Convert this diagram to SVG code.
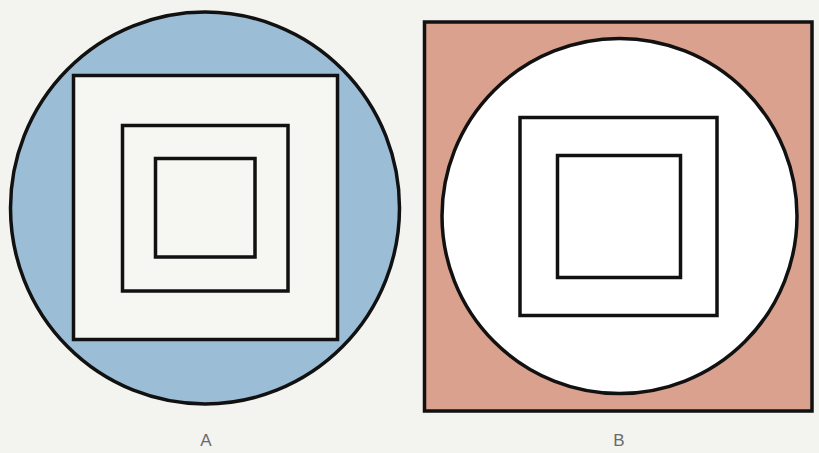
<svg xmlns="http://www.w3.org/2000/svg" width="819" height="453" viewBox="0 0 819 453">
  <style>
    .ln { stroke: #111; stroke-width: 3.5; }
    .sq { fill: none; stroke: #111; stroke-width: 3.5; }
    .lbl { font-family: "Liberation Sans", "DejaVu Sans", sans-serif; font-size: 17px; fill: #6a6a6a; text-anchor: middle; }
  </style>
  <rect x="0" y="0" width="819" height="453" fill="#f3f3f0"/>
  <g id="figureA">
    <ellipse cx="205" cy="208" rx="194.5" ry="196" fill="#9bbdd6" class="ln"/>
    <rect x="73.5" y="75.5" width="264" height="264" fill="#f6f6f2" class="ln"/>
    <rect x="122.5" y="125.5" width="165.5" height="165.5" class="sq"/>
    <rect x="155.5" y="158.5" width="99.5" height="98.5" class="sq"/>
    <text x="206" y="446" class="lbl">A</text>
  </g>
  <g id="figureB">
    <rect x="424.5" y="22" width="387.5" height="389" fill="#d9a18e" class="ln"/>
    <circle cx="619.5" cy="216" r="177.5" fill="#ffffff" class="ln"/>
    <rect x="520" y="117.5" width="197" height="198" class="sq"/>
    <rect x="557.5" y="155.5" width="123" height="122" class="sq"/>
    <text x="619" y="446" class="lbl">B</text>
  </g>
  <g id="connectors"/>
</svg>
